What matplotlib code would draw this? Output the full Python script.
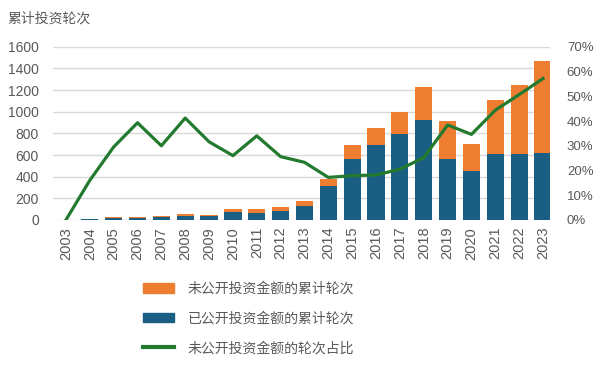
import matplotlib
matplotlib.use("Agg")
import matplotlib.pyplot as plt
import numpy as np
from matplotlib.patches import Patch
from matplotlib.lines import Line2D

plt.rcParams['font.family'] = ['Noto Sans CJK SC', 'DejaVu Sans']

years = [str(y) for y in range(2003, 2024)]
disclosed = [0, 7, 18, 18, 28, 34, 32, 72, 68, 87, 131, 310, 566, 692, 791, 923, 560, 455, 612, 612, 622]
total = [0, 9, 25, 30, 37, 58, 47, 98, 104, 117, 172, 375, 692, 849, 997, 1228, 914, 705, 1105, 1249, 1471]
undisclosed = [t - d for t, d in zip(total, disclosed)]
share = [0.0, 0.16, 0.295, 0.393, 0.30, 0.412, 0.316, 0.26, 0.34, 0.256, 0.233,
         0.172, 0.179, 0.182, 0.205, 0.252, 0.384, 0.346, 0.444, 0.507, 0.572]

c_blue = '#1b5e84'
c_orange = '#ed7d31'
c_green = '#237a2f'
c_text = '#595959'
num_font = ['Liberation Sans', 'DejaVu Sans']

fig = plt.figure(figsize=(6, 3.69), dpi=100)
ax = fig.add_axes([0.088, 0.404, 0.829, 0.469])
x = np.arange(len(years))
ax.bar(x, disclosed, width=0.72, color=c_blue, zorder=2)
ax.bar(x, undisclosed, width=0.72, bottom=disclosed, color=c_orange, zorder=2)
ax.set_ylim(0, 1600)
ax.set_yticks(range(0, 1601, 200))
ax.set_xlim(-0.55, 20.3)
ax.set_xticks(x)
ax.set_xticklabels(years, rotation=90, family=num_font, fontsize=10.5)
for lab in ax.get_yticklabels():
    lab.set_family(num_font)
ax.grid(axis='y', color='#d9d9d9', linewidth=1, zorder=0)
for s in ax.spines.values():
    s.set_visible(False)
ax.tick_params(axis='both', length=0, colors=c_text)
ax.tick_params(axis='y', pad=10, labelsize=10)
ax.tick_params(axis='x', pad=5)

ax2 = ax.twinx()
ax2.plot(x, share, color=c_green, linewidth=2.3, zorder=3)
ax2.set_ylim(0, 0.7)
ax2.set_yticks(np.arange(0, 0.71, 0.1))
ax2.set_yticklabels([f"{int(round(v*100))}%" for v in np.arange(0, 0.71, 0.1)],
                    family=num_font)
for s in ax2.spines.values():
    s.set_visible(False)
ax2.tick_params(axis='y', length=0, colors=c_text, labelsize=9.5, pad=12)

fig.text(0.013, 0.951, '累计投资轮次', fontsize=10, color=c_text, va='center', ha='left')

handles = [Patch(color=c_orange), Patch(color=c_blue), Line2D([0], [0], color=c_green, linewidth=3)]
labels = ['未公开投资金额的累计轮次', '已公开投资金额的累计轮次', '未公开投资金额的轮次占比']
leg = fig.legend(handles, labels, loc='upper left', bbox_to_anchor=(0.226, 0.255),
                 frameon=False, fontsize=10, labelcolor=c_text, handlelength=2.25,
                 handleheight=0.65, labelspacing=1.13, handletextpad=1.0, borderpad=0)

fig.savefig('out.png', dpi=100)
